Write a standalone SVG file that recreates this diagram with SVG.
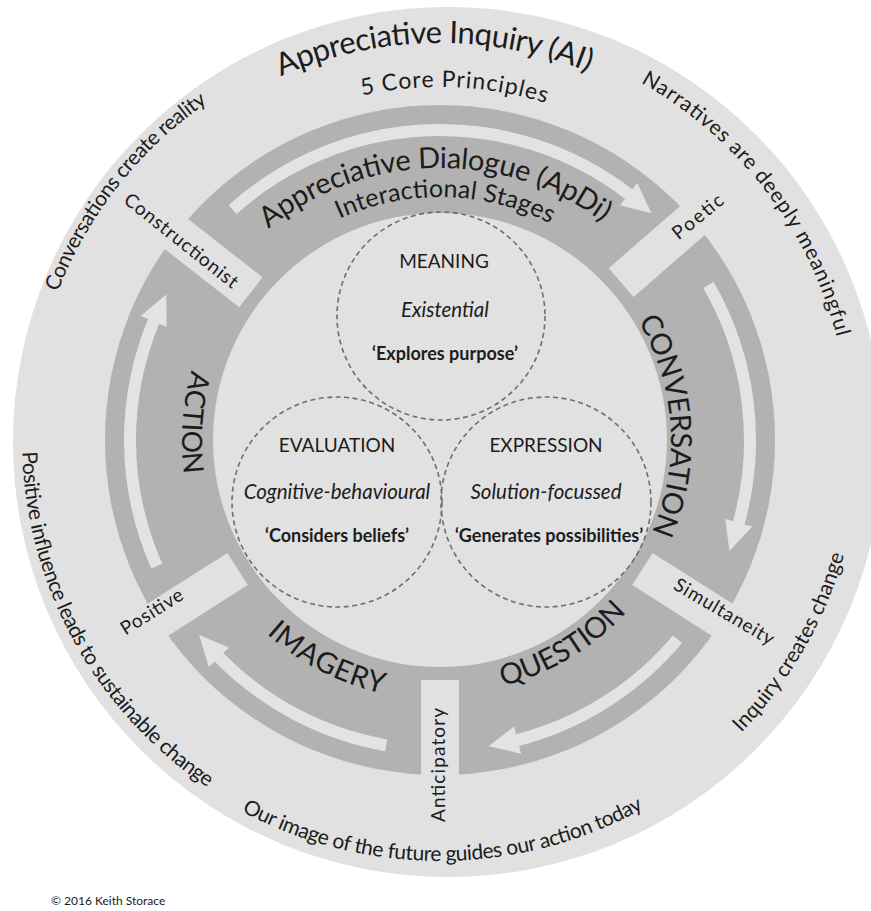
<svg xmlns="http://www.w3.org/2000/svg" width="871" height="911" viewBox="0 0 871 911">
<style>
.light{fill:#e1e1e1}
.ring{fill:#b2b2b2}
.t{font-family:Lato,"Open Sans","Liberation Sans",sans-serif;fill:#1c1c1c}
.desc{font-size:21px}
.stage{font-size:29px}
.label{font-size:19px}
.title{font-size:19px}
.sub{font-size:20.5px;font-style:italic}
.quote{font-size:18px;font-weight:bold}
.dash{fill:none;stroke:#6e6e6e;stroke-width:1.6;stroke-dasharray:5 3.5}
.arrow{fill:#e3e3e3}
</style>
<defs>
  <!-- clockwise half circles (text on the outside of the baseline) -->
  <path id="cw397" d="M43,440 A397,397 0 0 1 837,440"/>
  <path id="cw353" d="M87,440 A353,353 0 0 1 793,440"/>
  <path id="cw410" d="M30,440 A410,410 0 0 1 850,440"/>
  <path id="cw272" d="M168,440 A272,272 0 0 1 712,440"/>
  <path id="cw243" d="M197,440 A243,243 0 0 1 683,440"/>
  <path id="cw231" d="M209,440 A231,231 0 0 1 671,440"/>
  <!-- counter-clockwise half circles (letters face the centre) -->
  <path id="ccw421" d="M19,440 A421,421 0 0 0 861,440"/>
  <path id="ccw420" d="M20,440 A420,420 0 0 0 860,440"/>
  <path id="ccw418" d="M22,440 A418,418 0 0 0 858,440"/>
  <path id="ccw254" d="M186,440 A254,254 0 0 0 694,440"/>
  <path id="ccw260" d="M180,440 A260,260 0 0 0 700,440"/>
  <path id="ccw258" d="M182,440 A258,258 0 0 0 698,440"/>
</defs>

<!-- outer band: Appreciative Inquiry principles -->
<g id="appreciative-inquiry">
  <circle class="light" cx="448" cy="442" r="435"/>
  <text class="t" font-size="31" text-anchor="middle" transform="rotate(-0.85 440 440)"><textPath href="#cw397" startOffset="50%" textLength="316" lengthAdjust="spacing">Appreciative Inquiry (AI)</textPath></text>
  <text class="t" font-size="23" text-anchor="middle" transform="rotate(2.35 440 440)"><textPath href="#cw353" startOffset="50%" textLength="186" lengthAdjust="spacing">5 Core Principles</textPath></text>
</g>

<!-- middle band: Appreciative Dialogue stages -->
<g id="appreciative-dialogue">
  <circle class="ring" cx="440" cy="440" r="335"/>
  <circle class="light" cx="440" cy="440" r="227"/>
  <text class="t" font-size="29" text-anchor="middle" transform="rotate(-1.2 440 440)"><textPath href="#cw272" startOffset="50%" textLength="360" lengthAdjust="spacing">Appreciative Dialogue (ApDi)</textPath></text>
  <text class="t" font-size="25" text-anchor="middle" transform="rotate(1.3 440 440)"><textPath href="#cw243" startOffset="50%" textLength="218" lengthAdjust="spacing">Interactional Stages</textPath></text>
</g>

<g id="stage-conversation">
  <text class="t stage" text-anchor="middle" transform="rotate(86.3 440 440)"><textPath href="#cw231" startOffset="50%" textLength="220" lengthAdjust="spacing">CONVERSATION</textPath></text>
</g>
<g id="stage-question">
  <text class="t stage" text-anchor="middle" transform="rotate(-30.8 440 440)"><textPath href="#ccw254" startOffset="50%" textLength="146" lengthAdjust="spacing">QUESTION</textPath></text>
</g>
<g id="stage-imagery">
  <text class="t stage" text-anchor="middle" transform="rotate(27.3 440 440)"><textPath href="#ccw260" startOffset="50%" textLength="132" lengthAdjust="spacing">IMAGERY</textPath></text>
</g>
<g id="stage-action">
  <text class="t" font-size="28" text-anchor="middle" transform="rotate(94 440 440)"><textPath href="#ccw258" startOffset="50%" textLength="105" lengthAdjust="spacing">ACTION</textPath></text>
</g>

<!-- principles: gap in the ring, label, and outer statement -->
<g id="principle-constructionist">
  <rect class="light" x="240" y="-19" width="112" height="38" transform="translate(440 440) rotate(218)"/>
  <text class="t label" text-anchor="middle" x="0" y="6" textLength="140" lengthAdjust="spacing" transform="translate(181 241) rotate(38.5)">Constructionist</text>
  <text class="t desc" text-anchor="middle" transform="rotate(-51.7 440 440)"><textPath href="#cw410" startOffset="50%" textLength="245" lengthAdjust="spacing">Conversations create reality</textPath></text>
</g>
<g id="principle-poetic">
  <rect class="light" x="240" y="-19" width="112" height="38" transform="translate(440 440) rotate(319)"/>
  <text class="t label" text-anchor="middle" x="0" y="6" textLength="60" lengthAdjust="spacing" transform="translate(698 217) rotate(-39)">Poetic</text>
  <text class="t desc" text-anchor="middle" transform="rotate(52.4 440 440)"><textPath href="#cw410" startOffset="50%" textLength="330" lengthAdjust="spacing">Narratives are deeply meaningful</textPath></text>
</g>
<g id="principle-simultaneity">
  <rect class="light" x="240" y="-19" width="112" height="38" transform="translate(440 440) rotate(32.5)"/>
  <text class="t label" text-anchor="middle" x="0" y="6" textLength="113" lengthAdjust="spacing" transform="translate(724 612) rotate(30.5)">Simultaneity</text>
  <text class="t desc" text-anchor="middle" transform="rotate(-60 440 440)"><textPath href="#ccw420" startOffset="50%" textLength="208" lengthAdjust="spacing">Inquiry creates change</textPath></text>
</g>
<g id="principle-anticipatory">
  <rect class="light" x="240" y="-19" width="112" height="38" transform="translate(440 440) rotate(90)"/>
  <text class="t label" text-anchor="middle" x="0" y="5" textLength="114" lengthAdjust="spacing" transform="translate(440 765) rotate(-90)">Anticipatory</text>
  <text class="t desc" text-anchor="middle" transform="rotate(-0.4 440 440)"><textPath href="#ccw421" startOffset="50%" textLength="419" lengthAdjust="spacing">Our image of the future guides our action today</textPath></text>
</g>
<g id="principle-positive">
  <rect class="light" x="240" y="-19" width="112" height="38" transform="translate(440 440) rotate(147.5)"/>
  <text class="t label" text-anchor="middle" x="0" y="6" textLength="70" lengthAdjust="spacing" transform="translate(152 612) rotate(-32)">Positive</text>
  <text class="t desc" text-anchor="middle" transform="rotate(61.1 440 440)"><textPath href="#ccw418" startOffset="50%" textLength="398" lengthAdjust="spacing">Positive influence leads to sustainable change</textPath></text>
</g>

<!-- clockwise flow between stages -->
<g id="connectors">
  <path class="arrow" d="M228.55,205.17 A316,316 0 0 1 632.37,189.30 L637.24,182.95 L651.42,213.28 L620.19,205.17 L625.06,198.82 A304,304 0 0 0 236.58,214.09 Z"/>
  <path class="arrow" d="M713.66,282.00 A316,316 0 0 1 744.51,524.45 L752.22,526.59 L729.41,551.09 L725.23,519.10 L732.94,521.24 A304,304 0 0 0 703.27,288.00 Z"/>
  <path class="arrow" d="M682.07,643.12 A316,316 0 0 1 519.12,745.94 L521.12,753.68 L488.49,746.18 L514.11,726.57 L516.12,734.32 A304,304 0 0 0 672.88,635.41 Z"/>
  <path class="arrow" d="M385.13,751.20 A316,316 0 0 1 214.61,661.49 L208.91,667.09 L199.08,635.09 L228.88,647.47 L223.17,653.08 A304,304 0 0 0 387.21,739.38 Z"/>
  <path class="arrow" d="M151.32,568.53 A316,316 0 0 1 148.05,319.07 L140.66,316.01 L166.29,294.46 L166.53,326.73 L159.14,323.67 A304,304 0 0 0 162.28,563.65 Z"/>
</g>

<!-- inner circles -->
<g id="meaning">
  <circle class="dash" cx="441" cy="316" r="104"/>
  <text class="t title" x="444" y="268" text-anchor="middle">MEANING</text>
  <text class="t sub" x="445" y="317" text-anchor="middle">Existential</text>
  <text class="t quote" x="445" y="360" text-anchor="middle">‘Explores purpose’</text>
</g>
<g id="evaluation">
  <circle class="dash" cx="337" cy="502" r="105"/>
  <text class="t title" x="337" y="452" text-anchor="middle">EVALUATION</text>
  <text class="t sub" x="337" y="499" text-anchor="middle">Cognitive-behavioural</text>
  <text class="t quote" x="337" y="542" text-anchor="middle">‘Considers beliefs’</text>
</g>
<g id="expression">
  <circle class="dash" cx="546" cy="502" r="105"/>
  <text class="t title" x="546" y="452" text-anchor="middle">EXPRESSION</text>
  <text class="t sub" x="546" y="499" text-anchor="middle">Solution-focussed</text>
  <text class="t quote" x="549" y="542" text-anchor="middle">‘Generates possibilities’</text>
</g>

<text class="t" x="51" y="905" font-size="12">© 2016 Keith Storace</text>
</svg>
